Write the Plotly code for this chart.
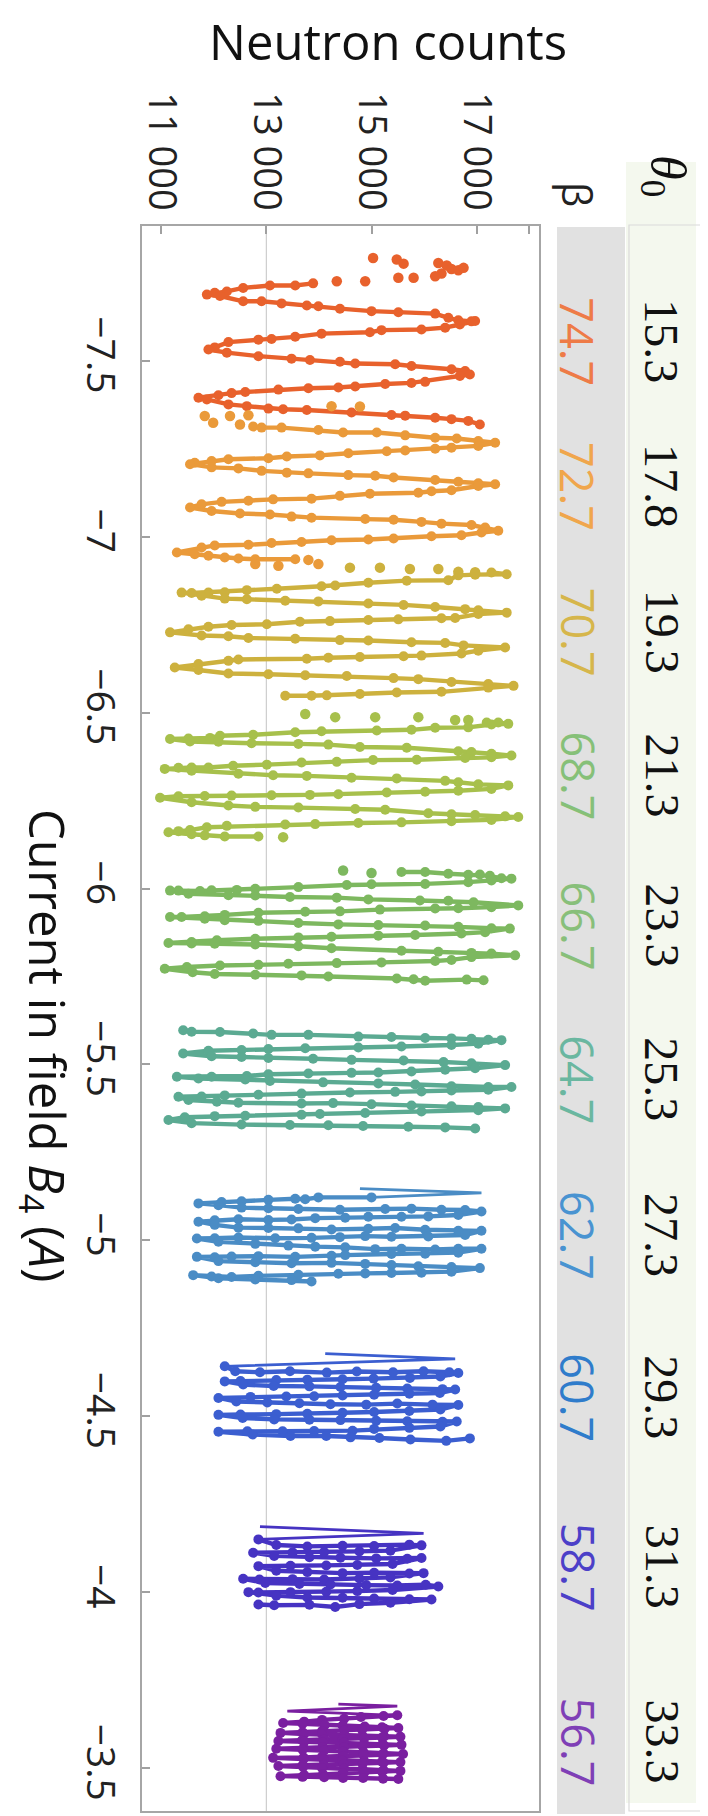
import plotly.graph_objects as go

# ---------------- labels ----------------
beta = ["74.7", "72.7", "70.7", "68.7", "66.7", "64.7", "62.7", "60.7", "58.7", "56.7"]
theta0 = ["15.3", "17.8", "19.3", "21.3", "23.3", "25.3", "27.3", "29.3", "31.3", "33.3"]
count_ticks = [11000, 13000, 15000, 17000]
count_tick_text = ["11 000", "13 000", "15 000", "17 000"]
count_minor_ticks = [18000]
current_ticks = [-7.5, -7.0, -6.5, -6.0, -5.5, -5.0, -4.5, -4.0, -3.5]
current_tick_text = ["\u22127.5", "\u22127", "\u22126.5", "\u22126", "\u22125.5", "\u22125", "\u22124.5", "\u22124", "\u22123.5"]
grid_counts = [13000]

# ---------------- data: (current A, neutron counts) ----------------
# beta 74.7
dots_1 = [(-7.792, 15030), (-7.788, 15480), (-7.776, 15610), (-7.778, 16270), (-7.771, 16430),
          (-7.761, 16520), (-7.757, 16650), (-7.764, 16750), (-7.748, 16330), (-7.740, 16210),
          (-7.736, 15800), (-7.736, 15510), (-7.726, 14880), (-7.726, 14340)]
line_1 = [(-7.720, 13890), (-7.714, 13550), (-7.714, 13070), (-7.707, 12560), (-7.697, 12250),
          (-7.693, 12020), (-7.688, 11870), (-7.684, 12120), (-7.669, 12560), (-7.669, 12910),
          (-7.663, 13290), (-7.657, 13770), (-7.655, 13990), (-7.648, 14400), (-7.641, 15000),
          (-7.638, 15510), (-7.634, 16210), (-7.622, 16460), (-7.615, 16650), (-7.612, 16900),
          (-7.613, 16970), (-7.603, 16680), (-7.594, 16400), (-7.589, 15950), (-7.587, 15190),
          (-7.581, 14970), (-7.577, 14050), (-7.568, 13550), (-7.562, 13100), (-7.560, 12850),
          (-7.553, 12280), (-7.538, 12020), (-7.532, 11900), (-7.523, 12250), (-7.513, 12850),
          (-7.506, 13480), (-7.502, 13830), (-7.497, 14400), (-7.492, 14690), (-7.490, 15450),
          (-7.485, 15760), (-7.476, 16520), (-7.471, 16780), (-7.461, 16870), (-7.457, 16680),
          (-7.440, 16020), (-7.437, 15760), (-7.434, 15260), (-7.427, 14690), (-7.424, 14370),
          (-7.422, 13800), (-7.418, 13230), (-7.411, 12600), (-7.408, 12340), (-7.402, 12090),
          (-7.395, 11710), (-7.390, 11870), (-7.376, 12280), (-7.371, 12630), (-7.364, 13040),
          (-7.362, 13320), (-7.360, 13770), (-7.353, 14620), (-7.346, 15380), (-7.344, 15640),
          (-7.338, 16210), (-7.334, 16520), (-7.329, 16840), (-7.319, 17060)]

# beta 72.7
dots_2 = [(-7.371, 14240), (-7.370, 14780), (-7.343, 11830), (-7.324, 11990), (-7.343, 12310),
          (-7.319, 12500), (-7.345, 12660), (-6.922, 12790), (-6.917, 13230), (-6.934, 13800),
          (-6.922, 13990)]
line_2 = [(-7.313, 12750), (-7.310, 12910), (-7.310, 13290), (-7.303, 13990), (-7.296, 14460),
          (-7.296, 15100), (-7.288, 15640), (-7.281, 16210), (-7.279, 16620), (-7.272, 17030),
          (-7.267, 17350), (-7.258, 17030), (-7.253, 16520), (-7.250, 16210), (-7.245, 15640),
          (-7.243, 15290), (-7.237, 14560), (-7.231, 14020), (-7.228, 13390), (-7.223, 13040),
          (-7.220, 12280), (-7.215, 11960), (-7.210, 11640), (-7.206, 11550), (-7.197, 11960),
          (-7.194, 12470), (-7.187, 12910), (-7.182, 13390), (-7.180, 13800), (-7.175, 14560),
          (-7.173, 15070), (-7.168, 15420), (-7.161, 16210), (-7.156, 16650), (-7.152, 17030),
          (-7.149, 17350), (-7.144, 17030), (-7.132, 16520), (-7.129, 16140), (-7.125, 15890),
          (-7.122, 14970), (-7.116, 14400), (-7.108, 13860), (-7.106, 13130), (-7.102, 12660),
          (-7.099, 12150), (-7.092, 11770), (-7.083, 11550), (-7.073, 11960), (-7.066, 12500),
          (-7.063, 13070), (-7.057, 13480), (-7.054, 13860), (-7.050, 14880), (-7.048, 15420),
          (-7.042, 15950), (-7.037, 16330), (-7.033, 16900), (-7.026, 17160), (-7.017, 17410),
          (-7.012, 17090), (-7.004, 16710), (-7.001, 16140), (-6.995, 15420), (-6.992, 14940),
          (-6.990, 14240), (-6.985, 13670), (-6.982, 13100), (-6.977, 12660), (-6.975, 12020),
          (-6.969, 11770), (-6.955, 11300), (-6.950, 11640), (-6.946, 11900), (-6.941, 12210),
          (-6.938, 12470), (-6.936, 12790), (-6.936, 13550)]

# beta 70.7
dots_3 = [(-6.912, 14590), (-6.912, 15160), (-6.908, 15730), (-6.908, 16270), (-6.900, 16650),
          (-6.899, 16970)]
line_3 = [(-6.898, 17280), (-6.893, 17570), (-6.892, 16970), (-6.890, 16650), (-6.876, 16460),
          (-6.875, 15670), (-6.869, 14940), (-6.861, 14310), (-6.859, 14050), (-6.852, 13200),
          (-6.848, 12630), (-6.842, 12210), (-6.841, 11900), (-6.840, 11580), (-6.841, 11390),
          (-6.832, 11770), (-6.824, 12210), (-6.822, 12630), (-6.818, 13360), (-6.816, 13990),
          (-6.810, 14940), (-6.806, 15610), (-6.800, 16210), (-6.794, 16780), (-6.791, 17030),
          (-6.784, 17570), (-6.780, 17030), (-6.769, 16590), (-6.768, 16330), (-6.765, 15510),
          (-6.763, 14940), (-6.760, 14210), (-6.758, 13640), (-6.751, 13010), (-6.749, 12340),
          (-6.744, 11900), (-6.737, 11520), (-6.728, 11170), (-6.719, 11770), (-6.717, 12280),
          (-6.712, 12660), (-6.710, 13550), (-6.706, 14400), (-6.705, 14940), (-6.700, 15760),
          (-6.698, 16400), (-6.691, 16750), (-6.685, 17540), (-6.676, 17030), (-6.668, 16710),
          (-6.662, 15950), (-6.660, 15610), (-6.658, 14780), (-6.656, 14180), (-6.653, 13770),
          (-6.651, 12470), (-6.647, 12280), (-6.638, 11710), (-6.628, 11260), (-6.621, 11710),
          (-6.611, 12280), (-6.609, 13040), (-6.606, 13740), (-6.604, 14530), (-6.598, 15420),
          (-6.595, 15890), (-6.587, 16520), (-6.581, 17220), (-6.576, 17700), (-6.571, 17220),
          (-6.559, 16330), (-6.557, 15480), (-6.553, 14780), (-6.549, 14150), (-6.548, 13860),
          (-6.548, 13360)]

# beta 68.7
dots_4 = [(-6.496, 13740), (-6.487, 14310), (-6.487, 15070), (-6.487, 15890), (-6.479, 16590),
          (-6.479, 16840), (-6.146, 13320)]
line_4 = [(-6.472, 17190), (-6.472, 17410), (-6.468, 17600), (-6.466, 17280), (-6.458, 16840),
          (-6.457, 16210), (-6.451, 15760), (-6.449, 15100), (-6.447, 14050), (-6.444, 13550),
          (-6.437, 12750), (-6.434, 12120), (-6.428, 11930), (-6.426, 11520), (-6.425, 11170),
          (-6.418, 11550), (-6.417, 12090), (-6.413, 12720), (-6.411, 13610), (-6.409, 14180),
          (-6.402, 14780), (-6.400, 15670), (-6.390, 16650), (-6.388, 16900), (-6.383, 17280),
          (-6.378, 17660), (-6.373, 17280), (-6.371, 16780), (-6.366, 15860), (-6.365, 15030),
          (-6.360, 14340), (-6.358, 13670), (-6.352, 13010), (-6.349, 12370), (-6.344, 11900),
          (-6.344, 11580), (-6.343, 11330), (-6.340, 11070), (-6.335, 11580), (-6.326, 12470),
          (-6.322, 13130), (-6.320, 13770), (-6.315, 14620), (-6.313, 15480), (-6.306, 16400),
          (-6.302, 16650), (-6.296, 17030), (-6.293, 17600), (-6.283, 17280), (-6.278, 16650),
          (-6.275, 16020), (-6.273, 15290), (-6.268, 14370), (-6.266, 13830), (-6.265, 13100),
          (-6.264, 12340), (-6.263, 11830), (-6.262, 11330), (-6.258, 10980), (-6.245, 11580),
          (-6.236, 12280), (-6.232, 12790), (-6.230, 13610), (-6.226, 14690), (-6.224, 15260),
          (-6.214, 16080), (-6.211, 16520), (-6.209, 16970), (-6.205, 17540), (-6.203, 17790),
          (-6.195, 17280), (-6.191, 16520), (-6.188, 15570), (-6.186, 14750), (-6.183, 13930),
          (-6.182, 13360), (-6.178, 12250), (-6.174, 11870), (-6.166, 11550), (-6.163, 11330),
          (-6.160, 11140), (-6.154, 11580), (-6.151, 11830), (-6.148, 12210), (-6.148, 12850)]

# beta 66.7
dots_5 = [(-6.051, 14460), (-6.044, 15000)]
line_5 = [(-6.047, 15570), (-6.047, 16020), (-6.042, 16460), (-6.039, 16840), (-6.040, 17060),
          (-6.036, 17250), (-6.029, 17470), (-6.028, 17660), (-6.023, 17280), (-6.018, 16840),
          (-6.013, 16020), (-6.012, 15000), (-6.010, 14530), (-6.004, 13610), (-5.999, 12790),
          (-5.996, 12440), (-5.995, 11960), (-5.993, 11740), (-5.994, 11330), (-5.994, 11170),
          (-5.985, 11520), (-5.981, 12280), (-5.980, 12790), (-5.976, 13450), (-5.974, 14340),
          (-5.969, 14940), (-5.966, 15920), (-5.965, 16460), (-5.961, 16940), (-5.952, 17790),
          (-5.947, 17280), (-5.944, 16650), (-5.943, 16210), (-5.940, 15160), (-5.935, 14400),
          (-5.934, 13740), (-5.931, 12850), (-5.925, 12210), (-5.921, 11830), (-5.919, 11390),
          (-5.919, 11170), (-5.914, 11830), (-5.910, 12210), (-5.908, 12850), (-5.902, 13610),
          (-5.898, 14370), (-5.896, 15130), (-5.895, 16020), (-5.891, 16650), (-5.887, 17280),
          (-5.886, 17630), (-5.876, 17160), (-5.872, 16710), (-5.868, 15830), (-5.866, 15130),
          (-5.863, 14240), (-5.861, 13610), (-5.857, 12790), (-5.853, 12060), (-5.848, 11580),
          (-5.845, 11140), (-5.844, 11580), (-5.843, 12020), (-5.841, 12790), (-5.836, 13610),
          (-5.830, 14240), (-5.823, 15570), (-5.820, 16270), (-5.817, 16900), (-5.815, 17280),
          (-5.810, 17730), (-5.805, 16900), (-5.797, 16520), (-5.794, 16210), (-5.790, 15190),
          (-5.788, 14340), (-5.786, 13420), (-5.783, 12850), (-5.781, 12120), (-5.777, 11490),
          (-5.772, 11070), (-5.762, 11600), (-5.757, 12020), (-5.755, 12790), (-5.753, 13670),
          (-5.750, 14180), (-5.744, 15480), (-5.742, 15800), (-5.738, 16020), (-5.741, 16810),
          (-5.739, 17130)]

# beta 64.7
line_6 = [(-5.597, 11420), (-5.593, 11580), (-5.592, 12120), (-5.588, 12750), (-5.584, 13100),
          (-5.584, 13800), (-5.579, 14750), (-5.578, 15380), (-5.575, 16020), (-5.574, 16520),
          (-5.573, 16900), (-5.570, 17220), (-5.569, 17470), (-5.559, 17030), (-5.555, 16520),
          (-5.551, 15570), (-5.548, 14750), (-5.546, 13740), (-5.544, 13040), (-5.541, 12530),
          (-5.539, 11900), (-5.531, 11420), (-5.523, 11960), (-5.521, 12530), (-5.518, 13040),
          (-5.516, 13890), (-5.513, 14620), (-5.511, 15610), (-5.507, 16370), (-5.503, 16900),
          (-5.498, 17540), (-5.489, 16970), (-5.485, 16400), (-5.480, 15760), (-5.477, 15130),
          (-5.476, 14620), (-5.474, 13800), (-5.472, 13040), (-5.467, 12630), (-5.465, 11960),
          (-5.465, 11300), (-5.460, 11710), (-5.457, 12600), (-5.453, 13070), (-5.449, 14080),
          (-5.446, 15130), (-5.443, 15830), (-5.438, 16520), (-5.436, 17220), (-5.436, 17660),
          (-5.428, 17220), (-5.426, 16520), (-5.423, 15950), (-5.422, 15450), (-5.420, 14590),
          (-5.417, 13670), (-5.414, 12850), (-5.412, 12210), (-5.409, 11770), (-5.408, 11330),
          (-5.399, 11520), (-5.394, 12060), (-5.391, 12470), (-5.389, 13670), (-5.390, 14270),
          (-5.387, 15000), (-5.383, 15760), (-5.381, 16520), (-5.379, 17030), (-5.375, 17540),
          (-5.370, 17030), (-5.366, 15950), (-5.362, 14880), (-5.359, 14020), (-5.357, 13670),
          (-5.354, 12600), (-5.353, 12020), (-5.350, 11450), (-5.342, 11140), (-5.333, 11580),
          (-5.329, 12530), (-5.328, 13450), (-5.327, 14180), (-5.325, 14840), (-5.323, 15700),
          (-5.321, 16400), (-5.318, 16970)]

# beta 62.7
thin_7 = [(-5.147, 14780), (-5.135, 17090), (-5.122, 15000)]
line_7 = [(-5.122, 15000), (-5.122, 13990), (-5.117, 13740), (-5.118, 13550), (-5.115, 13040),
          (-5.111, 12530), (-5.109, 12150), (-5.105, 11710), (-5.100, 12090), (-5.093, 12530),
          (-5.091, 13040), (-5.089, 13610), (-5.087, 14400), (-5.089, 15260), (-5.090, 15760),
          (-5.087, 16330), (-5.086, 16780), (-5.082, 17090), (-5.072, 16650), (-5.068, 16080),
          (-5.067, 15570), (-5.067, 14940), (-5.064, 14500), (-5.063, 13930), (-5.059, 13480),
          (-5.058, 13040), (-5.060, 12470), (-5.057, 12020), (-5.053, 11710), (-5.044, 12020),
          (-5.036, 12470), (-5.035, 13040), (-5.034, 13610), (-5.031, 14240), (-5.033, 14940),
          (-5.035, 15450), (-5.030, 16020), (-5.027, 16650), (-5.027, 17090), (-5.015, 16780),
          (-5.011, 16080), (-5.010, 15380), (-5.012, 14880), (-5.009, 14400), (-5.007, 13860),
          (-5.006, 13170), (-5.008, 12470), (-5.006, 12020), (-5.005, 11680), (-4.996, 12090),
          (-4.990, 12790), (-4.985, 13420), (-4.982, 13930), (-4.980, 14500), (-4.975, 15070),
          (-4.976, 15570), (-4.974, 16210), (-4.976, 16650), (-4.976, 17090), (-4.965, 16650),
          (-4.962, 16020), (-4.961, 15380), (-4.958, 14500), (-4.956, 14240), (-4.953, 13550),
          (-4.955, 12850), (-4.954, 12340), (-4.952, 12020), (-4.953, 11680), (-4.941, 12090),
          (-4.938, 12790), (-4.935, 13480), (-4.936, 14240), (-4.933, 14880), (-4.930, 15380),
          (-4.926, 15890), (-4.924, 16520), (-4.921, 17060), (-4.911, 16520), (-4.908, 15950),
          (-4.907, 15380), (-4.906, 14880), (-4.905, 14370), (-4.902, 13610), (-4.899, 12850),
          (-4.896, 12340), (-4.897, 11960), (-4.901, 11610), (-4.892, 12090), (-4.889, 12790),
          (-4.887, 13480), (-4.883, 13860)]

# beta 60.7
thin_8 = [(-4.678, 14120), (-4.663, 16590), (-4.642, 12210)]
line_8 = [(-4.642, 12210), (-4.628, 12410), (-4.625, 12880), (-4.628, 13450), (-4.624, 14150),
          (-4.627, 14720), (-4.625, 15410), (-4.628, 15990), (-4.625, 16480), (-4.623, 16650),
          (-4.613, 16310), (-4.609, 15730), (-4.607, 15040), (-4.605, 14450), (-4.604, 13780),
          (-4.603, 13190), (-4.600, 12510), (-4.599, 12210), (-4.590, 12560), (-4.586, 13140),
          (-4.585, 13820), (-4.583, 14410), (-4.581, 15090), (-4.579, 15680), (-4.577, 16350),
          (-4.576, 16590), (-4.566, 16300), (-4.564, 15720), (-4.561, 15050), (-4.559, 14450),
          (-4.557, 13910), (-4.556, 13380), (-4.555, 12700), (-4.552, 12090), (-4.542, 12430),
          (-4.539, 13020), (-4.537, 13630), (-4.534, 14220), (-4.533, 14900), (-4.536, 15490),
          (-4.533, 16160), (-4.532, 16650), (-4.519, 16310), (-4.515, 15720), (-4.512, 15050),
          (-4.510, 14450), (-4.507, 13780), (-4.506, 13190), (-4.505, 12510), (-4.504, 12090),
          (-4.495, 12550), (-4.491, 13150), (-4.490, 13820), (-4.489, 14410), (-4.487, 15090),
          (-4.486, 15680), (-4.484, 16350), (-4.485, 16620), (-4.471, 16310), (-4.467, 15720),
          (-4.464, 15050), (-4.459, 14640), (-4.458, 13910), (-4.457, 13310), (-4.457, 12640),
          (-4.456, 12090), (-4.448, 12740), (-4.444, 13460), (-4.444, 14140), (-4.440, 14600),
          (-4.438, 15150), (-4.434, 15740), (-4.430, 16420), (-4.437, 16870)]

# beta 58.7
thin_9 = [(-4.186, 12880), (-4.167, 15990), (-4.150, 12850)]
line_9 = [(-4.150, 12850), (-4.134, 13190), (-4.130, 13780), (-4.132, 14450), (-4.131, 15050),
          (-4.135, 15720), (-4.133, 15950), (-4.118, 15360), (-4.116, 14770), (-4.114, 14100),
          (-4.113, 13500), (-4.112, 12750), (-4.103, 13150), (-4.099, 13820), (-4.098, 14410),
          (-4.096, 15090), (-4.095, 15680), (-4.097, 15950), (-4.080, 15400), (-4.077, 14730),
          (-4.076, 14140), (-4.075, 13460), (-4.074, 12850), (-4.061, 13190), (-4.057, 13780),
          (-4.054, 14450), (-4.055, 15050), (-4.053, 15720), (-4.054, 15990), (-4.042, 15360),
          (-4.039, 14770), (-4.036, 14100), (-4.037, 13500), (-4.036, 12870), (-4.038, 12560),
          (-4.026, 12980), (-4.023, 13630), (-4.022, 14220), (-4.020, 14900), (-4.019, 15490),
          (-4.021, 16030), (-4.016, 16270), (-4.006, 15400), (-4.003, 14730), (-4.001, 14140),
          (-4.000, 13460), (-3.999, 12850), (-4.000, 12660), (-3.990, 13190), (-3.985, 13780),
          (-3.984, 14450), (-3.982, 15050), (-3.980, 15720), (-3.979, 16140), (-3.970, 15360),
          (-3.966, 14770), (-3.958, 14310), (-3.964, 13820), (-3.963, 13150), (-3.965, 12850)]

# beta 56.7
thin_10 = [(-3.682, 14370), (-3.676, 15490), (-3.662, 13400), (-3.650, 15490)]
line_10 = [(-3.650, 15490), (-3.648, 15230), (-3.645, 14800), (-3.640, 14480), (-3.637, 14060),
           (-3.632, 13720), (-3.628, 13320), (-3.626, 13690), (-3.622, 14110), (-3.621, 14450),
           (-3.618, 14870), (-3.616, 15200), (-3.614, 15510), (-3.612, 15250), (-3.609, 14820),
           (-3.607, 14480), (-3.605, 14060), (-3.602, 13690), (-3.600, 13270), (-3.597, 13720),
           (-3.596, 14060), (-3.593, 14490), (-3.591, 14830), (-3.590, 15240), (-3.589, 15550),
           (-3.587, 15200), (-3.585, 14860), (-3.582, 14450), (-3.581, 14100), (-3.579, 13680),
           (-3.577, 13230), (-3.575, 13720), (-3.573, 14070), (-3.572, 14480), (-3.569, 14860),
           (-3.568, 15210), (-3.566, 15570), (-3.564, 15240), (-3.562, 14830), (-3.560, 14480),
           (-3.559, 14070), (-3.557, 13710), (-3.555, 13190), (-3.552, 13690), (-3.550, 14100),
           (-3.547, 14450), (-3.545, 14850), (-3.542, 15230), (-3.540, 15600), (-3.538, 15210),
           (-3.537, 14850), (-3.534, 14470), (-3.532, 14060), (-3.530, 13710), (-3.529, 13130),
           (-3.526, 13710), (-3.524, 14090), (-3.521, 14440), (-3.520, 14860), (-3.518, 15200),
           (-3.517, 15550), (-3.515, 15230), (-3.513, 14830), (-3.511, 14470), (-3.509, 14090),
           (-3.508, 13690), (-3.506, 13230), (-3.503, 13700), (-3.500, 14060), (-3.498, 14480),
           (-3.497, 14830), (-3.494, 15230), (-3.492, 15550), (-3.490, 15200), (-3.487, 14860),
           (-3.485, 14450), (-3.482, 14080), (-3.480, 13720), (-3.477, 13270), (-3.475, 13690),
           (-3.474, 14100), (-3.472, 14460), (-3.472, 14840), (-3.470, 15220), (-3.469, 15510)]

lines = [line_1, line_2, line_3, line_4, line_5, line_6, line_7, line_8, line_9, line_10]
dots = [dots_1, dots_2, dots_3, dots_4, dots_5, [], [], [], [], []]
thins = [[], [], [], [], [], [], thin_7, thin_8, thin_9, thin_10]

# ---------------- styles ----------------
series_colors = ["#E8612C", "#EA9A3A", "#CDB13E", "#A7C04C", "#7DB85F",
                 "#5BAA92", "#4A8CC5", "#3B5ED0", "#4633C2", "#7A1FA0"]
beta_colors = ["#EE7B47", "#F0A64C", "#D6B64B", "#86C078", "#88BF7A",
               "#6AB7A0", "#4993D1", "#2F7CCB", "#4C40C8", "#7F3FB6"]

W, H = 708, 1816
L, R, T, B = 134, 177, 218, 11
pw, ph = W - L - R, H - T - B


def px(xp):
    return (xp - L) / pw


def py(yp):
    return (H - B - yp) / ph


fig = go.Figure()
for i in range(len(lines)):
    col = series_colors[i]
    if thins[i]:
        c, n = zip(*thins[i])
        fig.add_trace(go.Scatter(x=n, y=c, mode="lines", line=dict(color=col, width=2.8),
                                 hoverinfo="skip"))
    c, n = zip(*lines[i])
    fig.add_trace(go.Scatter(x=n, y=c, mode="lines+markers",
                             line=dict(color=col, width=4.4), marker=dict(color=col, size=10)))
    if dots[i]:
        c, n = zip(*dots[i])
        fig.add_trace(go.Scatter(x=n, y=c, mode="markers", marker=dict(color=col, size=10.5)))

shapes = []
shapes.append(dict(type="rect", xref="paper", yref="paper", x0=px(549), x1=px(617),
                   y0=py(1808), y1=py(219), fillcolor="#E1E1E1", line=dict(width=0), layer="below"))
shapes.append(dict(type="rect", xref="paper", yref="paper", x0=px(618), x1=px(688),
                   y0=py(1797), y1=py(154), fillcolor="#F4F8EE", line=dict(width=0), layer="below"))
shapes.append(dict(type="rect", xref="paper", yref="paper", x0=px(621), x1=px(697),
                   y0=py(1805), y1=py(217), fillcolor="rgba(0,0,0,0)",
                   line=dict(width=1.2, color="#DADADA"), layer="below"))
for g in grid_counts:
    shapes.append(dict(type="line", xref="x", yref="paper", x0=g, x1=g, y0=0, y1=1,
                       line=dict(color="#C4C4C4", width=1), layer="below"))

ann = []
for i in range(len(lines)):
    cs = [p[0] for p in lines[i] + dots[i] + thins[i]]
    mid = (min(cs) + max(cs)) / 2
    ann.append(dict(x=px(570), y=mid, xref="paper", yref="y", text=beta[i], showarrow=False,
                    xanchor="center", yanchor="middle", textangle=90,
                    font=dict(family="Open Sans", size=45, color=beta_colors[i])))
    ann.append(dict(x=px(654), y=mid, xref="paper", yref="y", text=theta0[i], showarrow=False,
                    xanchor="center", yanchor="middle", textangle=90,
                    font=dict(family="Liberation Serif", size=48, color="#111111")))
ann.append(dict(x=px(570), y=py(186), xref="paper", yref="paper", text="\u03b2", showarrow=False,
                xanchor="center", yanchor="middle", textangle=90,
                font=dict(family="Open Sans", size=40, color="#222222")))
ann.append(dict(x=px(656), y=py(168), xref="paper", yref="paper", text="<i>\u03b8</i><sub>0</sub>",
                showarrow=False, xanchor="center", yanchor="middle", textangle=90,
                font=dict(family="Liberation Serif", size=50, color="#111111")))
ann.append(dict(x=px(380), y=py(33), xref="paper", yref="paper", text="Neutron counts",
                showarrow=False, xanchor="center", yanchor="middle",
                font=dict(family="Open Sans", size=49, color="#111111")))
ann.append(dict(x=px(37), y=py(1038), xref="paper", yref="paper",
                text="Current in field <i>B</i><sub>4</sub> (<i>A</i>)", showarrow=False,
                xanchor="center", yanchor="middle", textangle=90,
                font=dict(family="Open Sans", size=49, color="#111111")))

fig.update_layout(
    width=W, height=H, margin=dict(l=L, r=R, t=T, b=B, pad=0),
    plot_bgcolor="white", paper_bgcolor="white", showlegend=False,
    shapes=shapes, annotations=ann,
    xaxis=dict(side="top", range=[10637, 18184], tickmode="array", tickvals=count_ticks,
               ticktext=count_tick_text, tickangle=90, ticks="inside", ticklen=8, tickwidth=1.5,
               tickcolor="#A0A0A0",
               minor=dict(tickmode="array", tickvals=count_minor_ticks, ticks="inside", ticklen=8,
                          tickwidth=1.5, tickcolor="#A0A0A0", showgrid=False),
               showgrid=False, zeroline=False, showline=True, linecolor="#A6A6A6", linewidth=2,
               mirror=True, tickfont=dict(family="Open Sans", size=38, color="#222222")),
    yaxis=dict(range=[-3.378, -7.883], tickmode="array", tickvals=current_ticks,
               ticktext=current_tick_text, tickangle=90, ticks="inside", ticklen=8, tickwidth=1.5,
               tickcolor="#A0A0A0", ticklabelstandoff=6,
               showgrid=False, zeroline=False, showline=True, linecolor="#A6A6A6", linewidth=2,
               mirror=True, tickfont=dict(family="Open Sans", size=39, color="#222222")),
)

fig.write_html("out.html")
